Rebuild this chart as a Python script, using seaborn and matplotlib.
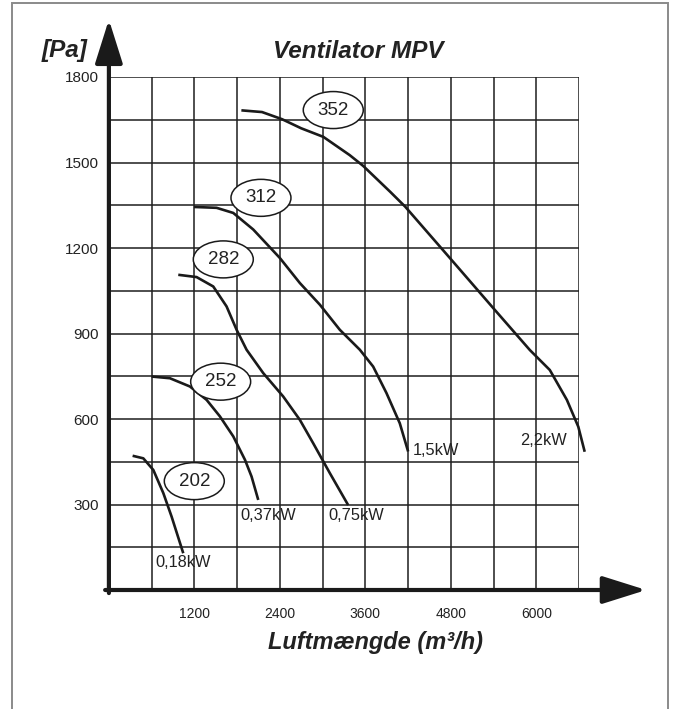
import matplotlib
matplotlib.use("Agg")
import matplotlib.pyplot as plt
from matplotlib.patches import Ellipse, Rectangle
import seaborn as sns
import pandas as pd

# ---- data ----
fans = ["202", "252", "282", "312", "352"]
power_labels = ["0,18kW", "0,37kW", "0,75kW", "1,5kW", "2,2kW"]

flow_202 = [333, 483, 624, 764, 881, 960, 1044]
pres_202 = [471, 462, 421, 340, 257, 195, 129]

flow_252 = [600, 857, 1138, 1372, 1559, 1746, 1910, 2003, 2097]
pres_252 = [749, 743, 714, 667, 609, 539, 457, 398, 316]

flow_282 = [974, 1231, 1465, 1652, 1793, 1933, 2167, 2447, 2681, 2868, 3102, 3359]
pres_282 = [1106, 1098, 1065, 995, 913, 843, 761, 679, 597, 515, 410, 298]

flow_312 = [1194, 1512, 1746, 2026, 2400, 2681, 2962, 3242, 3523, 3710, 3897, 4084, 4201]
pres_312 = [1344, 1341, 1323, 1265, 1165, 1077, 1001, 913, 843, 784, 691, 585, 486]

flow_352 = [1860, 2150, 2430, 2700, 3010, 3380, 3570, 3950, 4160, 4790, 5400, 5910, 6190, 6430, 6590, 6680]
pres_352 = [1683, 1677, 1652, 1620, 1590, 1526, 1488, 1397, 1345, 1164, 988, 842, 772, 667, 573, 485]

x_ticks = [1200, 2400, 3600, 4800, 6000]
y_ticks = [300, 600, 900, 1200, 1500, 1800]

# label placements (data coordinates)
ellipse_pos = [(1199, 382), (1569, 731), (1606, 1160), (2135, 1376), (3150, 1684)]
power_pos = [(646, 95), (1843, 263), (3080, 263), (4268, 488), (5771, 523)]

flows = [flow_202, flow_252, flow_282, flow_312, flow_352]
press = [pres_202, pres_252, pres_282, pres_312, pres_352]

rows = []
for fan, fx, py in zip(fans, flows, press):
    for i, (a, b) in enumerate(zip(fx, py)):
        rows.append({"fan": fan, "order": i, "flow": a, "pressure": b})
df = pd.DataFrame(rows)

# ---- style ----
sns.set_theme(style="white")
plt.rcParams["font.family"] = ["Liberation Sans", "DejaVu Sans"]

W, H = 673, 709
fig = plt.figure(figsize=(W / 100, H / 100), dpi=100)
fig.patch.set_facecolor("white")

ax_l, ax_r, ax_t, ax_b = 108.9, 579.0, 77.0, 590.0
ax = fig.add_axes([ax_l / W, 1 - ax_b / H, (ax_r - ax_l) / W, (ax_b - ax_t) / H])
ax.set_facecolor("white")

sns.lineplot(data=df, x="flow", y="pressure", hue="fan", units="fan", estimator=None,
             sort=False, palette={f: "#1a1a1a" for f in fans}, legend=False,
             linewidth=1.9, ax=ax)
for ln in ax.lines:
    ln.set_clip_on(False)
    ln.set_solid_capstyle("butt")
    ln.set_solid_joinstyle("round")

ax.set_xlim(0, 6600)
ax.set_ylim(0, 1800)

# grid
grid_x = list(range(0, 6601, 600))
grid_y = list(range(0, 1801, 150))
ax.set_xticks(grid_x)
ax.set_yticks(grid_y)
ax.set_xticklabels([str(v) if v in x_ticks else "" for v in grid_x])
ax.set_yticklabels([str(v) if v in y_ticks else "" for v in grid_y])
ax.grid(True, color="#1e1e1e", linewidth=1.1)
ax.tick_params(axis="both", length=0, colors="#222222")
ax.tick_params(axis="x", pad=12, labelsize=10)
ax.tick_params(axis="y", pad=7, labelsize=11)
for s in ax.spines.values():
    s.set_visible(False)
ax.set_xlabel("")
ax.set_ylabel("")

# axis arrows
arrow_kw = dict(arrowstyle="-|>,head_length=27,head_width=8.5", mutation_scale=1,
                color="#1a1a1a", linewidth=3.0, shrinkA=0, shrinkB=0)
ax.annotate("", xy=(1.143, 0), xytext=(-0.008, 0), xycoords="axes fraction",
            arrowprops=arrow_kw, annotation_clip=False)
ax.annotate("", xy=(0, 1.112), xytext=(0, -0.006), xycoords="axes fraction",
            arrowprops=arrow_kw, annotation_clip=False)

# ellipse labels
for fan, (cx, cy) in zip(fans, ellipse_pos):
    e = Ellipse((cx, cy), width=60 / 42.75 * 600, height=37 / 42.75 * 150,
                facecolor="white", edgecolor="#1a1a1a", linewidth=1.1, zorder=5)
    ax.add_patch(e)
    ax.text(cx, cy, fan, ha="center", va="center", fontsize=13.5, color="#222222", zorder=6)

# power labels
for lab, (px, py) in zip(power_labels, power_pos):
    ax.text(px, py, lab, ha="left", va="center", fontsize=11.8, color="#222222", zorder=6)

# titles
fig.text(358 / W, 1 - 52 / H, "Ventilator MPV", ha="center", va="center",
         fontsize=17.5, fontweight="bold", fontstyle="italic", color="#222222")
fig.text(65 / W, 1 - 50 / H, "[Pa]", ha="center", va="center",
         fontsize=17.5, fontweight="bold", fontstyle="italic", color="#222222")
fig.text(375 / W, 1 - 643 / H, "Luftmængde (m³/h)", ha="center", va="center",
         fontsize=17, fontweight="bold", fontstyle="italic", color="#222222")

# border
fig.patches.append(Rectangle((12 / W, -0.02), (668 - 12) / W, 0.02 + 1 - 3 / H,
                             transform=fig.transFigure, fill=False,
                             edgecolor="#8a8a8a", linewidth=1.4))

fig.savefig("out.png", dpi=100)
